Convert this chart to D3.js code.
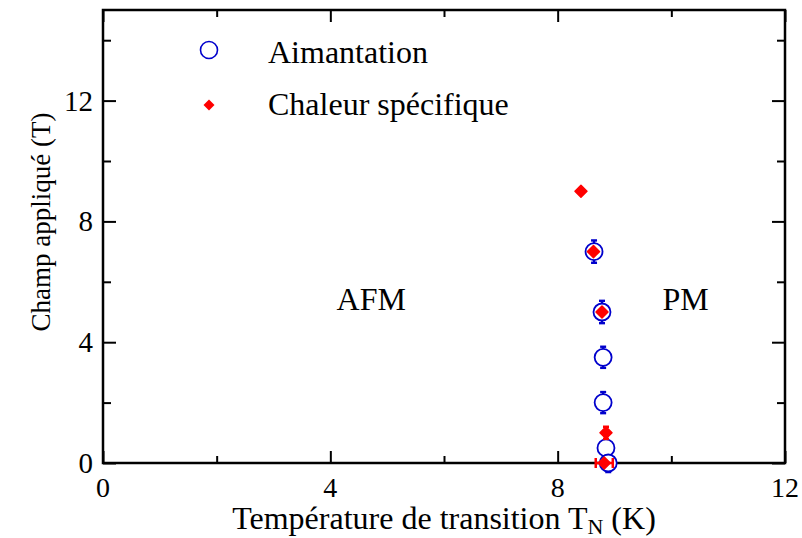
<!DOCTYPE html>
<html>
<head>
<meta charset="utf-8">
<script src="https://cdn.jsdelivr.net/npm/d3@7"></script>
<style>
  body { margin: 0; background: #fff; }
  svg text { font-family: "Liberation Serif", "Times New Roman", serif; fill: #000; }
</style>
</head>
<body>
<div id="chart"></div>
<script>
// Aimantation (open circles, vertical error bars)
const magT = [8.64, 8.78, 8.80, 8.80, 8.85, 8.89]
const magH = [7, 5, 3.5, 2, 0.5, 0]
const magErr = [0.37, 0.37, 0.35, 0.35, 0.25, 0.3]

// Chaleur spécifique (filled diamonds)
const cpT = [8.41, 8.63, 8.78, 8.85, 8.82]
const cpH = [9, 7, 5, 1, 0]
const cpHErr = [0, 0, 0, 0.2, 0]
const cpTErr = [0, 0, 0, 0, 0.15]

const xMajor = [0, 4, 8, 12]
const xMinor = [2, 6, 10]
const yMajor = [0, 4, 8, 12]
const yMinor = [2, 6, 10, 14]

const seriesNames = ['Aimantation', 'Chaleur spécifique']
const regionLabels = [{ text: 'AFM', t: 4.72, h: 5.07 }, { text: 'PM', t: 10.25, h: 5.07 }]

var margin = { top: 10, right: 17, bottom: 75, left: 103 },
  width = 802 - margin.left - margin.right,
  height = 538 - margin.top - margin.bottom

var svg = d3.select('#chart')
  .append('svg')
  .attr('width', 802)
  .attr('height', 538)
  .append('g')
  .attr('transform', 'translate(' + margin.left + ',' + margin.top + ')')

var x = d3.scaleLinear().domain([0, 12]).range([0, width])
var y = d3.scaleLinear().domain([0, 15]).range([height, 0])

var blue = '#0000cc', red = '#ff0000'

// ticks, all pointing inward on the 4 sides
function tickAxis(axis, vals, size, g) {
  g.call(axis.tickValues(vals).tickSize(size).tickFormat(''))
  g.select('.domain').remove()
  g.selectAll('.tick line').attr('stroke', '#000').attr('stroke-width', 2)
}
tickAxis(d3.axisBottom(x), xMajor, -12, svg.append('g').attr('transform', 'translate(0,' + height + ')'))
tickAxis(d3.axisBottom(x), xMinor, -7, svg.append('g').attr('transform', 'translate(0,' + height + ')'))
tickAxis(d3.axisTop(x), xMajor, -12, svg.append('g'))
tickAxis(d3.axisTop(x), xMinor, -7, svg.append('g'))
tickAxis(d3.axisLeft(y), yMajor, -13, svg.append('g'))
tickAxis(d3.axisLeft(y), yMinor, -8, svg.append('g'))
tickAxis(d3.axisRight(y), yMajor, -13, svg.append('g').attr('transform', 'translate(' + width + ',0)'))
tickAxis(d3.axisRight(y), yMinor, -8, svg.append('g').attr('transform', 'translate(' + width + ',0)'))

// tick labels
svg.selectAll('.xlab').data(xMajor).enter().append('text')
  .attr('x', d => x(d)).attr('y', height + 34)
  .attr('text-anchor', 'middle').style('font-size', '28px')
  .text(d => d)
svg.selectAll('.ylab').data(yMajor).enter().append('text')
  .attr('x', -10).attr('y', d => y(d) + 10)
  .attr('text-anchor', 'end').style('font-size', '29px')
  .text(d => d)

// frame
svg.append('rect')
  .attr('width', width).attr('height', height)
  .attr('fill', 'none').attr('stroke', '#000').attr('stroke-width', 2.5)

// axis titles
var xt = svg.append('text')
  .attr('x', width / 2).attr('y', height + 66)
  .attr('text-anchor', 'middle').style('font-size', '32px')
xt.append('tspan').text('Température de transition T')
xt.append('tspan').attr('dy', 5).style('font-size', '22px').text('N')
xt.append('tspan').attr('dy', -5).text(' (K)')

svg.append('text')
  .attr('transform', 'translate(-53,212) rotate(-90)')
  .attr('text-anchor', 'middle').style('font-size', '27px')
  .text('Champ appliqué (T)')

// region labels
svg.selectAll('.region').data(regionLabels).enter().append('text')
  .attr('x', d => x(d.t)).attr('y', d => y(d.h))
  .attr('text-anchor', 'middle').style('font-size', '32px')
  .text(d => d.text)

function diamond(cx, cy, r) {
  return 'M' + cx + ',' + (cy - r) + 'L' + (cx + r) + ',' + cy + 'L' + cx + ',' + (cy + r) + 'L' + (cx - r) + ',' + cy + 'Z'
}

// Aimantation: error bars + circles
var mag = magT.map((t, i) => ({ t: t, h: magH[i], e: magErr[i] }))
var mg = svg.append('g').attr('stroke', blue).attr('stroke-width', 2.4)
mag.forEach(function (d) {
  mg.append('line').attr('x1', x(d.t)).attr('x2', x(d.t)).attr('y1', y(d.h - d.e)).attr('y2', y(d.h + d.e))
  mg.append('line').attr('x1', x(d.t) - 3).attr('x2', x(d.t) + 3).attr('y1', y(d.h - d.e)).attr('y2', y(d.h - d.e))
  mg.append('line').attr('x1', x(d.t) - 3).attr('x2', x(d.t) + 3).attr('y1', y(d.h + d.e)).attr('y2', y(d.h + d.e))
})
mg.selectAll('circle').data(mag).enter().append('circle')
  .attr('cx', d => x(d.t)).attr('cy', d => y(d.h)).attr('r', 8.5)
  .attr('fill', '#fff').attr('stroke-width', 1.8)

// Chaleur spécifique: error bars + diamonds
var cp = cpT.map((t, i) => ({ t: t, h: cpH[i], eh: cpHErr[i], et: cpTErr[i] }))
var cg = svg.append('g').attr('stroke', red).attr('stroke-width', 2.5)
cp.forEach(function (d) {
  if (d.eh > 0) {
    cg.append('line').attr('x1', x(d.t)).attr('x2', x(d.t)).attr('y1', y(d.h - d.eh)).attr('y2', y(d.h + d.eh))
    cg.append('line').attr('x1', x(d.t) - 3).attr('x2', x(d.t) + 3).attr('y1', y(d.h + d.eh)).attr('y2', y(d.h + d.eh))
    cg.append('line').attr('x1', x(d.t) - 3).attr('x2', x(d.t) + 3).attr('y1', y(d.h - d.eh)).attr('y2', y(d.h - d.eh))
  }
  if (d.et > 0) {
    cg.append('line').attr('x1', x(d.t - d.et)).attr('x2', x(d.t + d.et)).attr('y1', y(d.h)).attr('y2', y(d.h))
    cg.append('line').attr('x1', x(d.t - d.et)).attr('x2', x(d.t - d.et)).attr('y1', y(d.h) - 5).attr('y2', y(d.h) + 5)
    cg.append('line').attr('x1', x(d.t + d.et)).attr('x2', x(d.t + d.et)).attr('y1', y(d.h) - 5).attr('y2', y(d.h) + 5)
  }
})
cg.selectAll('path').data(cp).enter().append('path')
  .attr('d', d => diamond(x(d.t), y(d.h), 6))
  .attr('fill', red).attr('stroke', red).attr('stroke-width', 1.5).attr('stroke-linejoin', 'round')

// legend
var lg = svg.append('g')
lg.append('circle').attr('cx', 106).attr('cy', 40).attr('r', 8.5)
  .attr('fill', 'none').attr('stroke', blue).attr('stroke-width', 1.6)
lg.append('path').attr('d', diamond(106, 95, 5.5)).attr('fill', red)
lg.selectAll('text').data(seriesNames).enter().append('text')
  .attr('x', 165).attr('y', (d, i) => 53 + i * 52)
  .style('font-size', '32px')
  .text(d => d)
</script>
</body>
</html>
